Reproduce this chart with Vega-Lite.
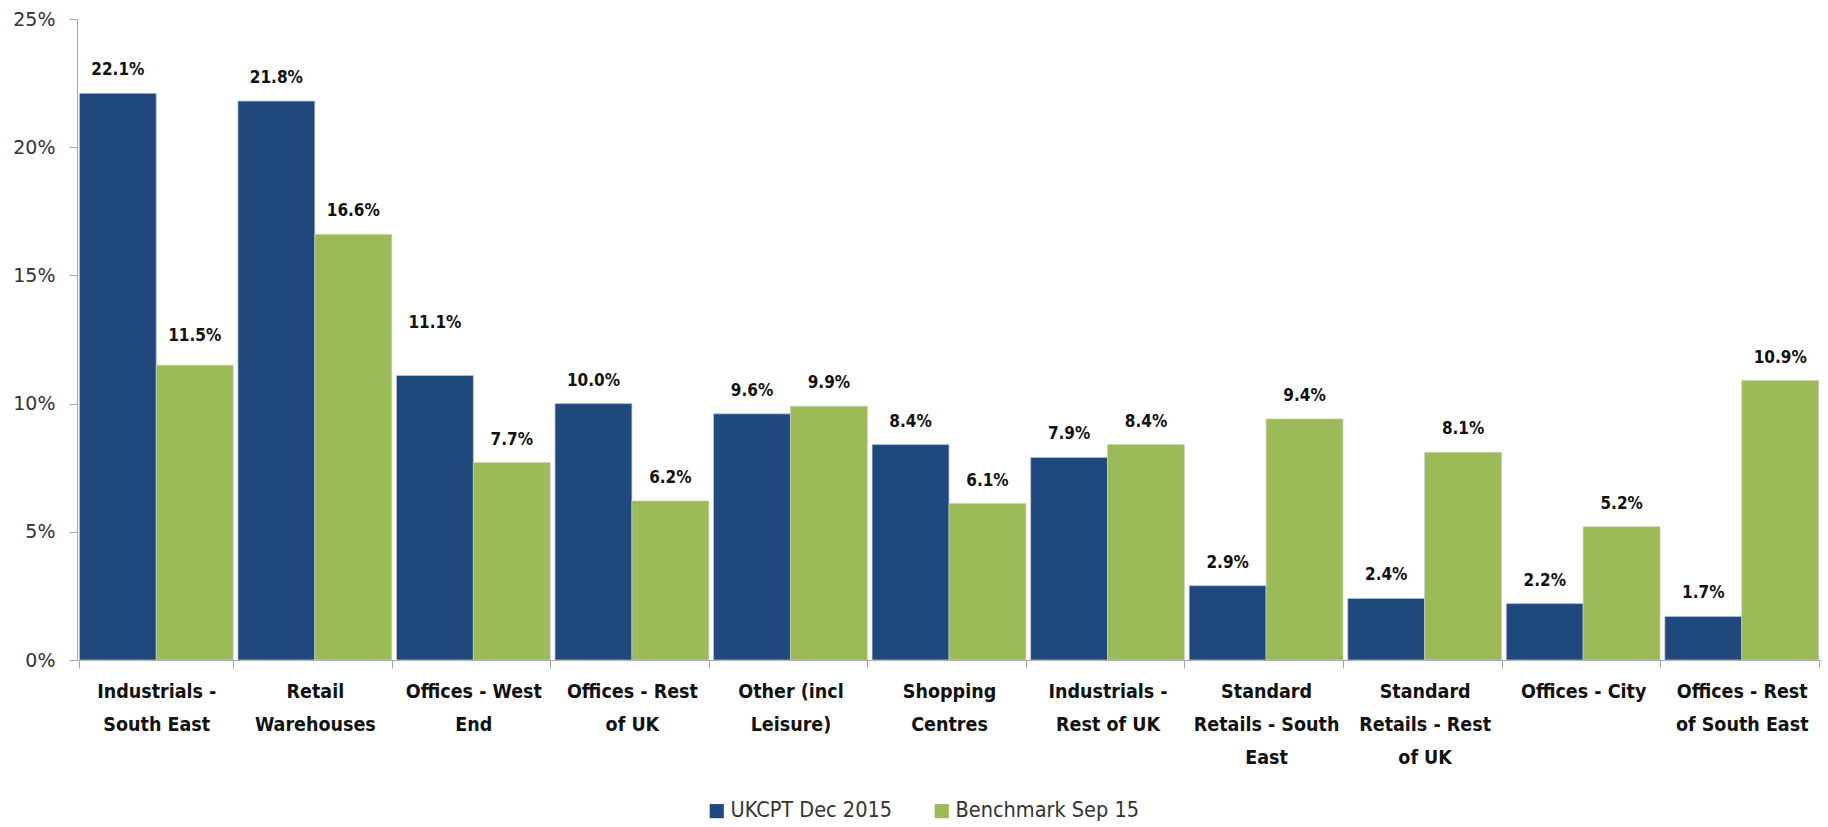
{
  "$schema": "https://vega.github.io/schema/vega-lite/v6.json",
  "width": 1744,
  "height": 641,
  "autosize": {"type": "none"},
  "padding": {"left": 77, "top": 19, "right": 7, "bottom": 167},
  "background": "white",
  "config": {"view": {"stroke": null}},
  "data": {
    "values": [
      {"category": "Industrials - South East", "series": "UKCPT Dec 2015", "value": 0.221},
      {"category": "Industrials - South East", "series": "Benchmark Sep 15", "value": 0.115},
      {"category": "Retail Warehouses", "series": "UKCPT Dec 2015", "value": 0.218},
      {"category": "Retail Warehouses", "series": "Benchmark Sep 15", "value": 0.166},
      {"category": "Offices - West End", "series": "UKCPT Dec 2015", "value": 0.111},
      {"category": "Offices - West End", "series": "Benchmark Sep 15", "value": 0.077},
      {"category": "Offices - Rest of UK", "series": "UKCPT Dec 2015", "value": 0.100},
      {"category": "Offices - Rest of UK", "series": "Benchmark Sep 15", "value": 0.062},
      {"category": "Other (incl Leisure)", "series": "UKCPT Dec 2015", "value": 0.096},
      {"category": "Other (incl Leisure)", "series": "Benchmark Sep 15", "value": 0.099},
      {"category": "Shopping Centres", "series": "UKCPT Dec 2015", "value": 0.084},
      {"category": "Shopping Centres", "series": "Benchmark Sep 15", "value": 0.061},
      {"category": "Industrials - Rest of UK", "series": "UKCPT Dec 2015", "value": 0.079},
      {"category": "Industrials - Rest of UK", "series": "Benchmark Sep 15", "value": 0.084},
      {"category": "Standard Retails - South East", "series": "UKCPT Dec 2015", "value": 0.029},
      {"category": "Standard Retails - South East", "series": "Benchmark Sep 15", "value": 0.094},
      {"category": "Standard Retails - Rest of UK", "series": "UKCPT Dec 2015", "value": 0.024},
      {"category": "Standard Retails - Rest of UK", "series": "Benchmark Sep 15", "value": 0.081},
      {"category": "Offices - City", "series": "UKCPT Dec 2015", "value": 0.022},
      {"category": "Offices - City", "series": "Benchmark Sep 15", "value": 0.052},
      {"category": "Offices - Rest of South East", "series": "UKCPT Dec 2015", "value": 0.017},
      {"category": "Offices - Rest of South East", "series": "Benchmark Sep 15", "value": 0.109}
    ]
  },
  "encoding": {
    "x": {
      "field": "category",
      "type": "nominal",
      "sort": null,
      "scale": {"paddingInner": 0.03, "paddingOuter": 0.015},
      "axis": {
        "title": null,
        "labelAngle": 0,
        "tickBand": "extent",
        "domainColor": "#a6a6a6",
        "tickColor": "#a6a6a6",
        "tickSize": 8,
        "labelPadding": 14,
        "labelFont": "DejaVu Sans Condensed, Liberation Sans Narrow, Liberation Sans",
        "labelFontWeight": "bold",
        "labelFontSize": 19.5,
        "labelLineHeight": 33,
        "labelColor": "#111111",
        "labelBaseline": "top",
        "labelLimit": 300,
        "labelExpr": "({'Industrials - South East': ['Industrials -', 'South East'], 'Retail Warehouses': ['Retail', 'Warehouses'], 'Offices - West End': ['Offices - West', 'End'], 'Offices - Rest of UK': ['Offices - Rest', 'of UK'], 'Other (incl Leisure)': ['Other (incl', 'Leisure)'], 'Shopping Centres': ['Shopping', 'Centres'], 'Industrials - Rest of UK': ['Industrials -', 'Rest of UK'], 'Standard Retails - South East': ['Standard', 'Retails - South', 'East'], 'Standard Retails - Rest of UK': ['Standard', 'Retails - Rest', 'of UK'], 'Offices - City': ['Offices - City'], 'Offices - Rest of South East': ['Offices - Rest', 'of South East']})[datum.label]"
      }
    },
    "xOffset": {"field": "series", "type": "nominal", "sort": ["UKCPT Dec 2015", "Benchmark Sep 15"]},
    "y": {
      "field": "value",
      "type": "quantitative",
      "scale": {"domain": [0, 0.25], "nice": false},
      "axis": {
        "title": null,
        "values": [0, 0.05, 0.1, 0.15, 0.2, 0.25],
        "format": ".0%",
        "grid": false,
        "domainColor": "#a6a6a6",
        "tickColor": "#a6a6a6",
        "tickSize": 8,
        "labelPadding": 14,
        "labelFont": "DejaVu Sans",
        "labelFontSize": 19,
        "labelColor": "#333333"
      }
    }
  },
  "layer": [
    {
      "mark": {"type": "bar", "stroke": "#c8c8c8", "strokeWidth": 0.7},
      "encoding": {
        "color": {
          "field": "series",
          "type": "nominal",
          "sort": ["UKCPT Dec 2015", "Benchmark Sep 15"],
          "scale": {"domain": ["UKCPT Dec 2015", "Benchmark Sep 15"], "range": ["#1f497d", "#9bbb59"]},
          "legend": {
            "title": null,
            "orient": "none",
            "direction": "horizontal",
            "legendX": 629,
            "legendY": 781,
            "symbolType": "square",
            "symbolSize": 200,
            "symbolStrokeWidth": 0,
            "labelFont": "DejaVu Sans Condensed, Liberation Sans Narrow, Liberation Sans",
            "labelFontSize": 21.5,
            "labelColor": "#333333",
            "labelOffset": 3,
            "columnPadding": 38,
            "labelLimit": 400
          }
        }
      }
    },
    {
      "transform": [{"filter": "!((datum.category === 'Offices - West End' && datum.series === 'UKCPT Dec 2015') || (datum.category === 'Industrials - South East' && datum.series === 'Benchmark Sep 15'))"}],
      "mark": {"type": "text", "baseline": "alphabetic", "dy": -18, "font": "DejaVu Sans Condensed, Liberation Sans Narrow, Liberation Sans", "fontWeight": "bold", "fontSize": 17, "color": "#111111"},
      "encoding": {
        "text": {"field": "value", "type": "quantitative", "format": ".1%"}
      }
    },
    {
      "transform": [{"filter": "datum.category === 'Industrials - South East' && datum.series === 'Benchmark Sep 15'"}],
      "mark": {"type": "text", "baseline": "alphabetic", "dy": -24, "font": "DejaVu Sans Condensed, Liberation Sans Narrow, Liberation Sans", "fontWeight": "bold", "fontSize": 17, "color": "#111111"},
      "encoding": {
        "text": {"field": "value", "type": "quantitative", "format": ".1%"}
      }
    },
    {
      "transform": [{"filter": "datum.category === 'Offices - West End' && datum.series === 'UKCPT Dec 2015'"}],
      "mark": {"type": "text", "baseline": "alphabetic", "dy": -47, "font": "DejaVu Sans Condensed, Liberation Sans Narrow, Liberation Sans", "fontWeight": "bold", "fontSize": 17, "color": "#111111"},
      "encoding": {
        "text": {"field": "value", "type": "quantitative", "format": ".1%"}
      }
    }
  ]
}
